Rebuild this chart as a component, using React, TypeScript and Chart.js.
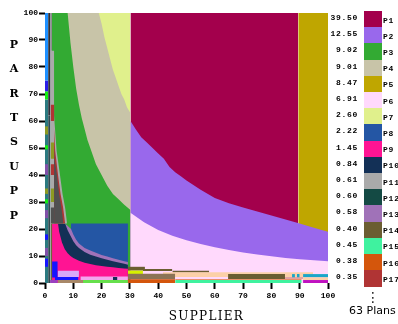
import React, { useEffect, useRef } from 'react';
import { Chart, registerables } from 'chart.js';

Chart.register(...registerables);

// ---------- legend data ----------
const legendPlans = ['P1', 'P2', 'P3', 'P4', 'P5', 'P6', 'P7', 'P8', 'P9', 'P10', 'P11', 'P12', 'P13', 'P14', 'P15', 'P16', 'P17'];
const legendCosts = ['39.50', '12.55', '9.02', '9.01', '8.47', '6.91', '2.60', '2.22', '1.45', '0.84', '0.61', '0.60', '0.58', '0.40', '0.45', '0.38', '0.35'];
const totalPlans = 63;
const yTitle = ['P', 'A', 'R', 'T', 'S', 'U', 'P', 'P'];
const xTitle = 'SUPPLIER';

const planColor: Record<string, string> = {
  P1: '#a3004c', P2: '#9968ec', P3: '#33aa33', P4: '#c8c4a8', P5: '#bfa600', P6: '#ffd9fc',
  P7: '#e0f08c', P8: '#2456a4', P9: '#ff1493', P10: '#133056', P11: '#aaaaaa', P12: '#144a44',
  P13: '#a072b8', P14: '#6b5d31', P15: '#3ff29f', P16: '#d4560c', P17: '#b03434',
  P18: '#1e90ff', P19: '#2a1ee8', P20: '#11ee11', P21: '#2b7a80', P22: '#2b2f3a', P23: '#4c4c52',
  P24: '#8c9a22', P25: '#505050', P26: '#1515ff', P27: '#d8a8f8', P28: '#f2a6ee', P29: '#9a40c0',
  P30: '#a88868', P31: '#66e04c', P32: '#d6f000', P33: '#fcd0a8', P34: '#8b7355', P35: '#e8906a',
  P36: '#e0a0a0', P37: '#1aa6c9', P38: '#c012c0', P39: '#8050a8', P40: '#2f4a50', P41: '#6e6a3a',
};

// ---------- region boundaries (SUPPLIER %, PARTSUPP %) ----------
// P3 | P4 boundary
const p3TopX = [2.4, 8, 9, 10, 11, 12, 13, 14, 15, 16, 18, 20, 22, 24, 26, 28, 30.2];
const p3TopY = [100, 100, 89, 80, 72, 66, 61, 57, 53, 50, 44, 40, 36, 33, 31, 29, 27];
// P4 | P7 boundary
const p4TopX = [7.5, 19, 20, 21, 22, 23, 24, 25, 26, 27, 28, 29, 30.2];
const p4TopY = [100, 100, 96, 91, 87, 83, 79, 76, 73, 70, 68, 65, 63];
// P1 | P2 boundary
const p2TopX = [30.2, 32, 34, 36, 38, 40, 42, 44, 46, 48, 50, 55, 60, 65, 70, 75, 80, 85, 90, 95, 100];
const p2TopY = [60, 57, 54, 52, 50, 48, 46, 43, 41, 39.5, 38, 34.5, 31.5, 29.5, 28, 26.5, 25, 23.5, 22, 20.5, 19];
// P2 | P6 boundary
const p6TopX = [30.2, 35, 40, 45, 50, 55, 60, 65, 70, 75, 80, 85, 90, 95, 100];
const p6TopY = [26, 22.5, 19.6, 17.5, 15.8, 14.4, 13.2, 12.2, 11.3, 10.6, 9.9, 9.3, 8.8, 8.4, 8.1];
// P8 block and the bands under it
const p8Span = [9.2, 29.3];
const p8Top = 22;
const p8LowX = [9.2, 10, 11, 12, 14, 16, 18, 20, 22, 24, 26, 28, 29.3];
const p8LowY = [20, 18, 16, 14.6, 13, 12, 11.2, 10.4, 9.8, 9.2, 8.6, 8.1, 7.8];
const p13LowX = [7.1, 8, 9, 10, 11, 12, 14, 16, 18, 20, 22, 24, 26, 28, 29.3];
const p13LowY = [22, 19.5, 17.5, 15.5, 14, 13, 11.5, 10.5, 9.8, 9.2, 8.6, 8.1, 7.6, 7.1, 6.8];
const p10LowX = [4.6, 5, 6, 7, 8, 9, 10, 12, 14, 16, 18, 20, 22, 24, 26, 28, 29.3];
const p10LowY = [22, 19, 15, 12.5, 11, 10, 9.3, 8.2, 7.5, 7, 6.6, 6.3, 6, 5.8, 5.6, 5.4, 5.3];
const p9Left = 2.5;
// wedges on the left of P3
const p11WedgeX = [2.0, 3.2, 3.2, 4.1, 5.3, 6.2, 7.1, 7.8];
const p11WedgeY = [86, 86, 62, 49, 40, 33, 28, 22];
const p17WedgeX = [3.2, 3.6, 4.6, 5.5, 6.4, 7.1];
const p17WedgeY = [57, 49, 40, 33, 28, 22];
const p25WedgeX = [3.2, 3.5, 4.2, 5.0, 5.8, 6.5];
const p25WedgeY = [50, 45, 40, 33, 28, 22];

// big rectangles: [plan, x0, x1, y0, y1]
const baseBlocks: [string, number, number, number, number][] = [
  ['P7', 18, 30.2, 0, 100],
  ['P1', 30.2, 89.5, 0, 100],
  ['P5', 89.5, 100, 0, 100],
];

const edgeStrips: [string, number, number, number, number][] = [
  ['P21', 0, 1.1, 0, 68],
  ['P20', 0, 1.1, 68, 71],
  ['P19', 0, 1.1, 71, 75],
  ['P18', 0, 1.1, 75, 100],
  ['P39', 0, 1.1, 40, 44],
  ['P39', 0, 1.1, 24, 27],
  ['P39', 0, 1.1, 10, 13],
  ['P24', 0, 1.1, 55, 58],
  ['P24', 0, 1.1, 33, 35],
  ['P20', 0, 1.1, 49.5, 51],
  ['P20', 0, 1.1, 29.5, 31],
  ['P26', 0, 1.1, 6, 9],
  ['P26', 0, 1.1, 16, 18],
  ['P22', 1.1, 2.0, 62, 100],
  ['P40', 1.1, 2.0, 0, 62],
  ['P23', 2.0, 2.4, 86, 100],
  ['P17', 2.0, 3.3, 60, 66],
  ['P24', 2.0, 3.2, 46, 52],
  ['P17', 2.0, 3.2, 40, 44],
  ['P24', 2.0, 3.2, 30, 35],
  ['P25', 2.0, 3.2, 22, 28],
  ['P41', 2.0, 2.5, 0, 22],
];

const bottomStrips: [string, number, number, number, number][] = [
  ['P26', 2.5, 4.5, 2, 8],
  ['P27', 4.5, 12, 2.2, 4.5],
  ['P26', 3.5, 11.8, 1.1, 2.2],
  ['P26', 14, 16, 1.1, 2.2],
  ['P28', 12.5, 29.3, 1.1, 2.4],
  ['P10', 24, 25.6, 1.1, 2.2],
  ['P29', 1.8, 4.5, 0, 1.1],
  ['P30', 4.5, 13.4, 0, 1.1],
  ['P31', 13.4, 29.3, 0, 1.1],
  ['P14', 29.3, 35.3, 4.6, 6.0],
  ['P32', 29.3, 34.6, 3.3, 4.6],
  ['P14', 34.6, 45, 4.4, 5.2],
  ['P14', 45, 58, 3.9, 4.5],
  ['P33', 41.7, 94.7, 2.2, 4.0],
  ['P34', 29.3, 46, 1.4, 3.4],
  ['P14', 64.7, 84.8, 1.5, 3.3],
  ['P35', 46, 90.7, 1.1, 1.5],
  ['P16', 29.3, 46, 0, 1.4],
  ['P15', 46, 90.7, 0, 1.1],
  ['P36', 84.8, 91.2, 1.5, 2.2],
  ['P37', 87.3, 88.3, 2.1, 3.3],
  ['P37', 89, 90, 2.1, 3.3],
  ['P37', 91.2, 100, 2.1, 3.3],
  ['P33', 91.2, 100, 1.1, 2.1],
  ['P38', 91.2, 100, 0, 1.1],
];

const W = 398;
const H = 324;

export default function App() {
  const ref = useRef<HTMLCanvasElement>(null);

  useEffect(() => {
    const canvas = ref.current;
    if (!canvas) return;
    const datasets: any[] = [];
    const area = (plan: string, xs: number[], ys: number[], base: number) => {
      datasets.push({
        data: xs.map((x, i) => ({ x, y: ys[i] })),
        backgroundColor: planColor[plan],
        borderColor: 'rgba(0,0,0,0)',
        borderWidth: 0,
        pointRadius: 0,
        pointHoverRadius: 0,
        tension: 0,
        fill: { value: base },
      });
    };
    const rect = (b: [string, number, number, number, number]) => area(b[0], [b[1], b[2]], [b[4], b[4]], b[3]);

    baseBlocks.forEach(rect);
    area('P4', p4TopX, p4TopY, 0);
    area('P3', p3TopX, p3TopY, 0);
    area('P2', p2TopX, p2TopY, 0);
    area('P6', p6TopX, p6TopY, 0);
    area('P8', p8Span, [p8Top, p8Top], 0);
    area('P13', [p13LowX[0], ...p8LowX], [p8Top, ...p8LowY], 0);
    area('P10', [p10LowX[0], ...p13LowX], [p8Top, ...p13LowY], 0);
    area('P9', [p9Left, ...p10LowX], [p8Top, ...p10LowY], 0);
    area('P11', p11WedgeX, p11WedgeY, p8Top);
    area('P17', p17WedgeX, p17WedgeY, p8Top);
    area('P25', p25WedgeX, p25WedgeY, p8Top);
    edgeStrips.forEach(rect);
    bottomStrips.forEach(rect);

    const n = datasets.length;
    datasets.forEach((d, i) => (d.order = n - i));

    const tickFont = { family: 'Liberation Mono', size: 8, weight: 'bold' as const };
    const chart = new Chart(canvas, {
      type: 'line',
      data: { datasets },
      options: {
        animation: false,
        responsive: false,
        devicePixelRatio: 1,
        events: [],
        layout: { padding: { left: 0, top: 13, right: 70, bottom: 0 } },
        plugins: { legend: { display: false }, tooltip: { enabled: false } },
        scales: {
          x: {
            type: 'linear',
            min: 0,
            max: 100,
            ticks: { stepSize: 10, color: '#000', font: tickFont, padding: 2, maxRotation: 0, autoSkip: false },
            grid: { drawOnChartArea: false, drawTicks: true, tickLength: 6, tickWidth: 2, tickColor: '#000' },
            border: { display: false },
            afterFit: (s: any) => { s.height = 41; },
          },
          y: {
            type: 'linear',
            min: 0,
            max: 100,
            ticks: { stepSize: 10, color: '#000', font: tickFont, padding: 1, autoSkip: false },
            grid: { drawOnChartArea: false, drawTicks: true, tickLength: 6, tickWidth: 2, tickColor: '#000' },
            border: { display: false },
            afterFit: (s: any) => { s.width = 45; },
          },
        },
      },
    });
    return () => chart.destroy();
  }, []);

  const rowH = 16.2;
  const mono = '"Liberation Mono", monospace';
  return (
    <div style={{ position: 'fixed', left: 0, top: 0, width: W, height: H, overflow: 'hidden', background: '#fff' }}>
      <canvas ref={ref} width={W} height={H} style={{ position: 'absolute', left: 0, top: 0, width: W, height: H }} />
      {yTitle.map((ch, i) => (
        <div key={'yt' + i} style={{ position: 'absolute', left: 0, width: 28, top: 45.8 + i * 24.4 - 8, height: 16, lineHeight: '16px', textAlign: 'center', font: 'bold 11px "DejaVu Serif", serif', color: '#000' }}>{ch}</div>
      ))}
      <div style={{ position: 'absolute', left: 150, width: 113, top: 309, height: 16, lineHeight: '16px', textAlign: 'center', font: '12px "DejaVu Serif", serif', letterSpacing: '1.3px', color: '#000' }}>{xTitle}</div>
      {legendPlans.map((p, i) => (
        <React.Fragment key={p}>
          <div style={{ position: 'absolute', left: 320, width: 38, top: 18.9 + i * rowH - 6, height: 12, lineHeight: '12px', textAlign: 'right', font: `bold 8px ${mono}`, letterSpacing: '0.7px', color: '#000' }}>{legendCosts[i]}</div>
          <div style={{ position: 'absolute', left: 364, width: 18, top: 11 + i * rowH, height: rowH + 0.3, background: planColor[p] }} />
          <div style={{ position: 'absolute', left: 383, top: 21.5 + i * rowH - 6, height: 12, lineHeight: '12px', font: `bold 8px ${mono}`, letterSpacing: '0.8px', color: '#000', whiteSpace: 'nowrap' }}>{p}</div>
        </React.Fragment>
      ))}
      <div style={{ position: 'absolute', left: 363, width: 20, top: 289, height: 20, lineHeight: '20px', textAlign: 'center', font: '14px "DejaVu Sans", sans-serif', color: '#222' }}>⋮</div>
      <div style={{ position: 'absolute', left: 349, top: 304, height: 14, lineHeight: '14px', font: '11px "DejaVu Sans", sans-serif', color: '#000', whiteSpace: 'nowrap' }}>{totalPlans} Plans</div>
    </div>
  );
}
